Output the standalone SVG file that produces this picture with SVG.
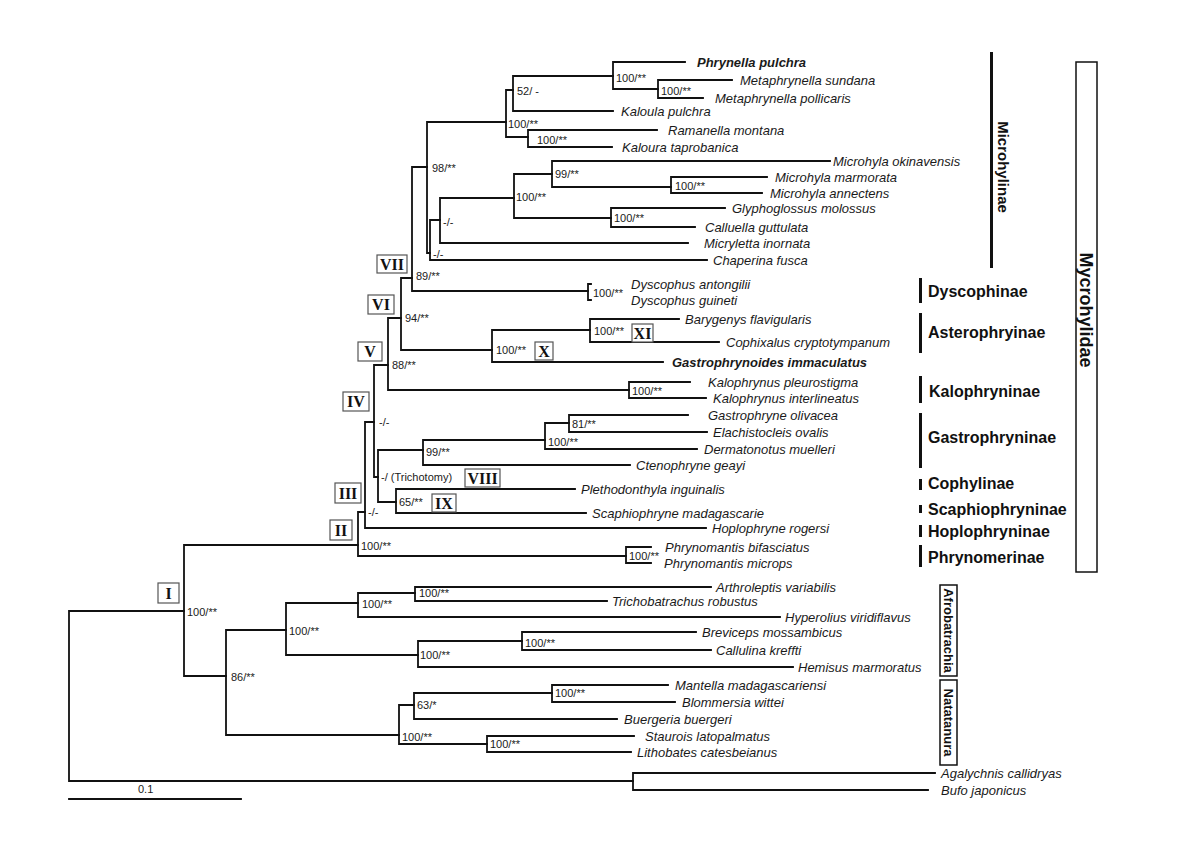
<svg xmlns="http://www.w3.org/2000/svg" width="1200" height="848" viewBox="0 0 1200 848">
<style>
.br{stroke:#111;stroke-width:1.8;fill:none;stroke-linecap:square}
.sp{font-family:"Liberation Sans",Arial,sans-serif;font-style:italic;font-size:13px;fill:#1a1a1a}
.spb{font-weight:bold}
.lb{font-family:"Liberation Sans",Arial,sans-serif;font-size:11px;fill:#1a1a1a}
.rn rect{fill:#fff;stroke:#555;stroke-width:1.2}
.rn text{font-family:"Liberation Serif","Times New Roman",serif;font-weight:bold;font-size:16px;fill:#111;text-anchor:middle}
.cl{font-family:"Liberation Sans",Arial,sans-serif;font-weight:bold;font-size:16px;fill:#111}
.bar{fill:#111}
.box{fill:#fff;stroke:#111;stroke-width:1.5}
</style>
<rect width="1200" height="848" fill="#fff"/>
<g id="connectors" class="br">
<path d="M69,611V781M69,611H184M69,781H633"/>
<path d="M633,773V790M633,773H935M633,790H928"/>
<path d="M184,545V676M184,545H358M184,676H226"/>
<path d="M358,512V556M358,512H365M358,556H626"/>
<path d="M626,547V563M626,547H651M626,563H651"/>
<path d="M365,422V528M365,422H374M365,528H706"/>
<path d="M374,365V477M374,365H388M374,477H378"/>
<path d="M378,450V502M378,450H423M378,502H396"/>
<path d="M423,440V465M423,440H545M423,465H630"/>
<path d="M545,423V449M545,423H569M545,449H697"/>
<path d="M569,415V432M569,415H688M569,432H707"/>
<path d="M396,489V513M396,489H575M396,513H586"/>
<path d="M388,318V390M388,318H401M388,390H629"/>
<path d="M629,382V398M629,382H690M629,398H706"/>
<path d="M401,278V350M401,278H412M401,350H492"/>
<path d="M492,330V362M492,330H590M492,362H663"/>
<path d="M590,319V342M590,319H679M590,342H719"/>
<path d="M412,167V291M412,167H427M412,291H588"/>
<path d="M588,284V300M588,284H591M588,300H591"/>
<path d="M427,122V253M427,122H506M427,253H430"/>
<path d="M506,90V137M506,90H513M506,137H528"/>
<path d="M513,76V111M513,76H613M513,111H613"/>
<path d="M613,62V89M613,62H685M613,89H658"/>
<path d="M658,80V98M658,80H732M658,98H703"/>
<path d="M528,130V147M528,130H657M528,147H612"/>
<path d="M430,220V260M430,220H440M430,260H707"/>
<path d="M440,198V243M440,198H514M440,243H688"/>
<path d="M514,174V218M514,174H552M514,218H611"/>
<path d="M552,161V187M552,161H830M552,187H671"/>
<path d="M671,177V193M671,177H767M671,193H762"/>
<path d="M611,208V227M611,208H725M611,227H695"/>
<path d="M226,630V735M226,630H286M226,735H399"/>
<path d="M286,603V655M286,603H358M286,655H418"/>
<path d="M358,593V617M358,593H415M358,617H780"/>
<path d="M415,587V601M415,587H711M415,601H607"/>
<path d="M418,641V667M418,641H522M418,667H793"/>
<path d="M522,632V650M522,632H696M522,650H711"/>
<path d="M399,705V744M399,705H414M399,744H487"/>
<path d="M414,693V719M414,693H552M414,719H617"/>
<path d="M552,685V702M552,685H668M552,702H675"/>
<path d="M487,736V752M487,736H634M487,752H631"/>
<path d="M69,799H241"/>
</g>
<g id="support-labels" class="lb">
<text x="187" y="616">100/**</text>
<text x="231" y="681">86/**</text>
<text x="289" y="635">100/**</text>
<text x="362" y="608">100/**</text>
<text x="419" y="597">100/**</text>
<text x="420" y="659">100/**</text>
<text x="525" y="647">100/**</text>
<text x="402" y="741">100/**</text>
<text x="417" y="709">63/*</text>
<text x="555" y="697">100/**</text>
<text x="490" y="748">100/**</text>
<text x="361" y="550">100/**</text>
<text x="629" y="560">100/**</text>
<text x="368" y="516">-/-</text>
<text x="379" y="426">-/-</text>
<text x="381" y="481">-/ (Trichotomy)</text>
<text x="426" y="456">99/**</text>
<text x="548" y="446">100/**</text>
<text x="572" y="428">81/**</text>
<text x="399" y="506">65/**</text>
<text x="392" y="369">88/**</text>
<text x="632" y="395">100/**</text>
<text x="405" y="322">94/**</text>
<text x="496" y="354">100/**</text>
<text x="594" y="335">100/**</text>
<text x="416" y="280">89/**</text>
<text x="593" y="297">100/**</text>
<text x="432" y="172">98/**</text>
<text x="508" y="128">100/**</text>
<text x="517" y="95">52/ -</text>
<text x="616" y="82">100/**</text>
<text x="661" y="95">100/**</text>
<text x="537" y="144">100/**</text>
<text x="433" y="258">-/-</text>
<text x="443" y="226">-/-</text>
<text x="516" y="201">100/**</text>
<text x="555" y="178">99/**</text>
<text x="675" y="190">100/**</text>
<text x="614" y="222">100/**</text>
<text x="138" y="793">0.1</text>
</g>
<g id="roman-numerals" class="rn">
<g id="n-I"><rect x="158" y="583" width="21" height="20"/><text x="168.5" y="598.5">I</text></g>
<g id="n-II"><rect x="330" y="520" width="22" height="20"/><text x="341" y="535.5">II</text></g>
<g id="n-III"><rect x="335" y="483" width="26" height="20"/><text x="348" y="498.5">III</text></g>
<g id="n-IV"><rect x="343" y="392" width="26" height="19"/><text x="356" y="407">IV</text></g>
<g id="n-V"><rect x="358" y="342" width="24" height="19"/><text x="370" y="357">V</text></g>
<g id="n-VI"><rect x="368" y="295" width="26" height="19"/><text x="381" y="310">VI</text></g>
<g id="n-VII"><rect x="377" y="255" width="30" height="18"/><text x="392" y="269.5">VII</text></g>
<g id="n-VIII"><rect x="465" y="469" width="35" height="18"/><text x="482.5" y="483.5">VIII</text></g>
<g id="n-IX"><rect x="432" y="494" width="24" height="18"/><text x="444" y="508.5">IX</text></g>
<g id="n-X"><rect x="535" y="342" width="18" height="18"/><text x="544" y="356.5">X</text></g>
<g id="n-XI"><rect x="632" y="324" width="21" height="18"/><text x="642.5" y="338.5">XI</text></g>
</g>
<g id="taxa" class="sp">
<g id="t1"><text class="spb" x="697" y="66.5">Phrynella pulchra</text></g>
<g id="t2"><text x="740" y="84.5">Metaphrynella sundana</text></g>
<g id="t3"><text x="715" y="102.5">Metaphrynella pollicaris</text></g>
<g id="t4"><text x="621" y="115.5">Kaloula pulchra</text></g>
<g id="t5"><text x="668" y="134.5">Ramanella montana</text></g>
<g id="t6"><text x="622" y="151.5">Kaloura taprobanica</text></g>
<g id="t7"><text x="833" y="165.5">Microhyla okinavensis</text></g>
<g id="t8"><text x="775" y="181.5">Microhyla marmorata</text></g>
<g id="t9"><text x="770" y="197.5">Microhyla annectens</text></g>
<g id="t10"><text x="732" y="212.5">Glyphoglossus molossus</text></g>
<g id="t11"><text x="705" y="231.5">Calluella guttulata</text></g>
<g id="t12"><text x="704" y="247.5">Micryletta inornata</text></g>
<g id="t13"><text x="713" y="264.5">Chaperina fusca</text></g>
<g id="t14"><text x="631" y="288.5">Dyscophus antongilii</text></g>
<g id="t15"><text x="631" y="304.5">Dyscophus guineti</text></g>
<g id="t16"><text x="685" y="323.5">Barygenys flavigularis</text></g>
<g id="t17"><text x="726" y="346.5">Cophixalus cryptotympanum</text></g>
<g id="t18"><text class="spb" x="672" y="366.5">Gastrophrynoides immaculatus</text></g>
<g id="t19"><text x="708" y="386.5">Kalophrynus pleurostigma</text></g>
<g id="t20"><text x="713" y="402.5">Kalophrynus interlineatus</text></g>
<g id="t21"><text x="708" y="419.5">Gastrophryne olivacea</text></g>
<g id="t22"><text x="713" y="436.5">Elachistocleis ovalis</text></g>
<g id="t23"><text x="704" y="453.5">Dermatonotus muelleri</text></g>
<g id="t24"><text x="636" y="469.5">Ctenophryne geayi</text></g>
<g id="t25"><text x="581" y="493.5">Plethodonthyla inguinalis</text></g>
<g id="t26"><text x="592" y="517.5">Scaphiophryne madagascarie</text></g>
<g id="t27"><text x="712" y="532.5">Hoplophryne rogersi</text></g>
<g id="t28"><text x="665" y="551.5">Phrynomantis bifasciatus</text></g>
<g id="t29"><text x="664" y="567.5">Phrynomantis microps</text></g>
<g id="t30"><text x="716" y="591.5">Arthroleptis variabilis</text></g>
<g id="t31"><text x="612" y="605.5">Trichobatrachus robustus</text></g>
<g id="t32"><text x="785" y="621.5">Hyperolius viridiflavus</text></g>
<g id="t33"><text x="702" y="636.5">Breviceps mossambicus</text></g>
<g id="t34"><text x="716" y="654.5">Callulina kreffti</text></g>
<g id="t35"><text x="798" y="671.5">Hemisus marmoratus</text></g>
<g id="t36"><text x="675" y="689.5">Mantella madagascariensi</text></g>
<g id="t37"><text x="682" y="706.5">Blommersia wittei</text></g>
<g id="t38"><text x="624" y="723.5">Buergeria buergeri</text></g>
<g id="t39"><text x="645" y="740.5">Staurois latopalmatus</text></g>
<g id="t40"><text x="637" y="756.5">Lithobates catesbeianus</text></g>
<g id="t41"><text x="941" y="777.5">Agalychnis callidryas</text></g>
<g id="t42"><text x="941" y="794.5">Bufo japonicus</text></g>
</g>
<g id="clades">
<g id="c-microhylinae"><rect class="bar" x="990" y="52" width="3" height="216"/><text class="cl" text-anchor="middle" transform="translate(1003,167) rotate(90)" y="5.4" style="font-size:15px">Microhylinae</text></g>
<g id="c-mycrohylidae"><rect class="box" x="1076" y="62" width="21" height="510"/><text class="cl" text-anchor="middle" transform="translate(1086.5,310) rotate(90)" y="6.4" style="font-size:18px">Mycrohylidae</text></g>
<g id="c-dyscophinae"><rect class="bar" x="919" y="278" width="3" height="25"/><text class="cl" x="928" y="296.5">Dyscophinae</text></g>
<g id="c-asterophryinae"><rect class="bar" x="919" y="313" width="3" height="40"/><text class="cl" x="928" y="337.5">Asterophryinae</text></g>
<g id="c-kalophryninae"><rect class="bar" x="919" y="376" width="3" height="27"/><text class="cl" x="929" y="396.5">Kalophryninae</text></g>
<g id="c-gastrophryninae"><rect class="bar" x="919" y="413" width="3" height="55"/><text class="cl" x="928" y="442.5">Gastrophryninae</text></g>
<g id="c-cophylinae"><rect class="bar" x="919" y="479" width="3" height="11"/><text class="cl" x="928" y="489">Cophylinae</text></g>
<g id="c-scaphiophryninae"><rect class="bar" x="919" y="505" width="3" height="8"/><text class="cl" x="928" y="515">Scaphiophryninae</text></g>
<g id="c-hoplophryninae"><rect class="bar" x="919" y="525" width="3" height="12"/><text class="cl" x="928" y="537">Hoplophryninae</text></g>
<g id="c-phrynomerinae"><rect class="bar" x="919" y="545" width="3" height="22"/><text class="cl" x="928" y="563">Phrynomerinae</text></g>
<g id="c-afrobatrachia"><rect class="box" x="940" y="585" width="17" height="91"/><text class="cl" text-anchor="middle" transform="translate(948.5,630.5) rotate(90)" y="4.7" style="font-size:13px">Afrobatrachia</text></g>
<g id="c-natatanura"><rect class="box" x="940" y="680" width="17" height="85"/><text class="cl" text-anchor="middle" transform="translate(948.5,722.5) rotate(90)" y="4.7" style="font-size:13px">Natatanura</text></g>
</g>
</svg>
